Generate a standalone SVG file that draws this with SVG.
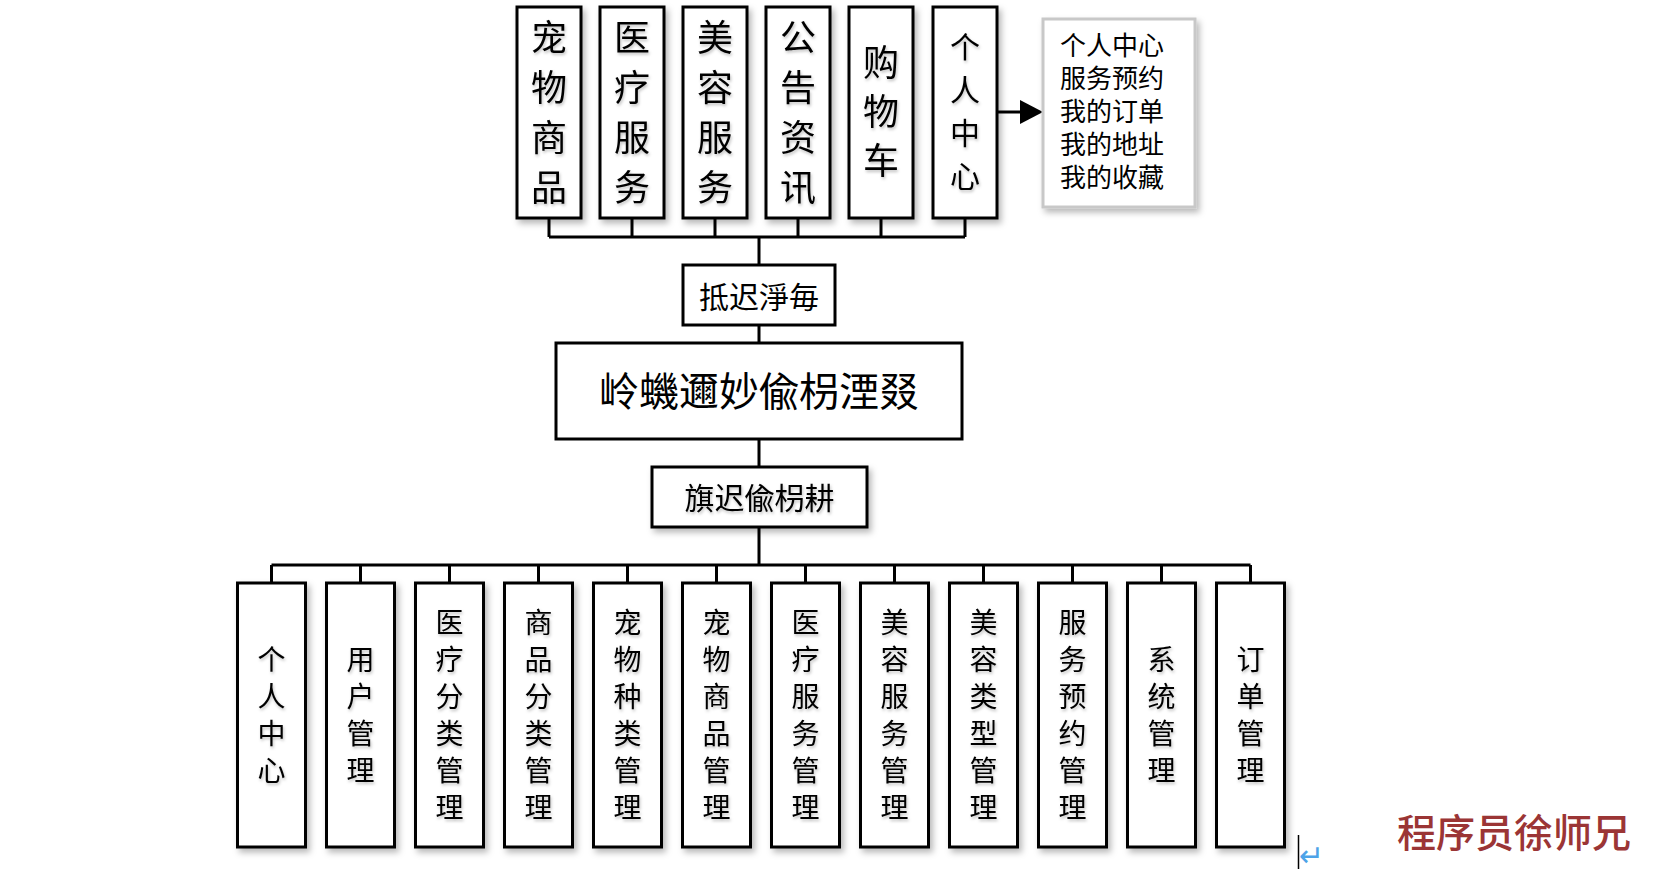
<svg xmlns="http://www.w3.org/2000/svg" width="1656" height="876" viewBox="0 0 1656 876">
  <defs>
    <filter id="sh" x="-20%" y="-20%" width="150%" height="150%">
      <feDropShadow dx="3" dy="4" stdDeviation="3" flood-color="#000" flood-opacity="0.28"/>
    </filter>
    <filter id="tsh" x="-20%" y="-20%" width="150%" height="150%">
      <feDropShadow dx="1" dy="2" stdDeviation="1.5" flood-color="#000" flood-opacity="0.25"/>
    </filter>
  </defs>
  <style>
    .box{fill:#fff;stroke:#000;stroke-width:3}
    .gbox{fill:#fff;stroke:#c8c8c8;stroke-width:3}
    .ln{fill:none;stroke:#000;stroke-width:3}
    text{font-family:"Noto Sans CJK SC","Noto Sans",sans-serif;fill:#000}
    .t36{font-size:36px;text-anchor:middle}
    .t30{font-size:30px;text-anchor:middle}
    .t28{font-size:28px;text-anchor:middle}
    .t27{font-size:26px}
    .t40{font-size:40px;text-anchor:middle}
  </style>
  <rect width="1656" height="876" fill="#fff"/>

  <g id="connectors">
    <path class="ln" d="M549 218V237M632 218V237M715 218V237M798 218V237M881 218V237M965 218V237M549 237H965"/>
    <path class="ln" d="M759 237V265M759 325V343M759 439V467M759 527V565"/>
    <path class="ln" d="M271.5 565H1250.5"/>
    <path class="ln" d="M271.5 565V583M360.5 565V583M449.5 565V583M538.5 565V583M627.5 565V583M716.5 565V583M805.5 565V583M894.5 565V583M983.5 565V583M1072.5 565V583M1161.5 565V583M1250.5 565V583"/>
    <path class="ln" d="M996 112H1022"/>
    <polygon points="1020,100 1043,112 1020,124" fill="#000"/>
  </g>

  <!-- top row -->
  <g id="top1"><rect class="box" x="517" y="7" width="64" height="211" filter="url(#sh)"/>
    <text class="t36" filter="url(#tsh)"><tspan x="549" y="51">宠</tspan><tspan x="549" y="101">物</tspan><tspan x="549" y="151">商</tspan><tspan x="549" y="201">品</tspan></text></g>
  <g id="top2"><rect class="box" x="600" y="7" width="64" height="211" filter="url(#sh)"/>
    <text class="t36" filter="url(#tsh)"><tspan x="632" y="51">医</tspan><tspan x="632" y="101">疗</tspan><tspan x="632" y="151">服</tspan><tspan x="632" y="201">务</tspan></text></g>
  <g id="top3"><rect class="box" x="683" y="7" width="64" height="211" filter="url(#sh)"/>
    <text class="t36" filter="url(#tsh)"><tspan x="715" y="51">美</tspan><tspan x="715" y="101">容</tspan><tspan x="715" y="151">服</tspan><tspan x="715" y="201">务</tspan></text></g>
  <g id="top4"><rect class="box" x="766" y="7" width="64" height="211" filter="url(#sh)"/>
    <text class="t36" filter="url(#tsh)"><tspan x="798" y="51">公</tspan><tspan x="798" y="101">告</tspan><tspan x="798" y="151">资</tspan><tspan x="798" y="201">讯</tspan></text></g>
  <g id="top5"><rect class="box" x="849" y="7" width="64" height="211" filter="url(#sh)"/>
    <text class="t36" filter="url(#tsh)"><tspan x="881" y="76">购</tspan><tspan x="881" y="125">物</tspan><tspan x="881" y="174">车</tspan></text></g>
  <g id="top6"><rect class="box" x="933" y="7" width="64" height="211" filter="url(#sh)"/>
    <text class="t30" filter="url(#tsh)"><tspan x="965" y="58">个</tspan><tspan x="965" y="101">人</tspan><tspan x="965" y="144">中</tspan><tspan x="965" y="187">心</tspan></text></g>

  <g id="personal-list"><rect class="gbox" x="1043" y="19" width="152" height="188" filter="url(#sh)"/>
    <text class="t27" x="1060" y="55">个人中心</text>
    <text class="t27" x="1060" y="88">服务预约</text>
    <text class="t27" x="1060" y="121">我的订单</text>
    <text class="t27" x="1060" y="154">我的地址</text>
    <text class="t27" x="1060" y="187">我的收藏</text></g>

  <g id="front"><rect class="box" x="683" y="265" width="152" height="60"/>
    <text class="t30" x="759" y="308">抵迟淨毎</text></g>
  <g id="system"><rect class="box" x="556" y="343" width="406" height="96"/>
    <text class="t40" x="759" y="406">岭蟣邇妙偸枴湮叕</text></g>
  <g id="back"><rect class="box" x="652" y="467" width="215" height="60" filter="url(#sh)"/>
    <text class="t30" x="759.5" y="509" filter="url(#tsh)">旗迟偸枴耕</text></g>

  <!-- bottom row -->
  <g id="b1"><rect class="box" x="237.5" y="583" width="68" height="264" filter="url(#sh)"/>
    <text class="t28" filter="url(#tsh)"><tspan x="271.5" y="670">个</tspan><tspan x="271.5" y="707">人</tspan><tspan x="271.5" y="744">中</tspan><tspan x="271.5" y="781">心</tspan></text></g>
  <g id="b2"><rect class="box" x="326.5" y="583" width="68" height="264" filter="url(#sh)"/>
    <text class="t28" filter="url(#tsh)"><tspan x="360.5" y="670">用</tspan><tspan x="360.5" y="707">户</tspan><tspan x="360.5" y="744">管</tspan><tspan x="360.5" y="781">理</tspan></text></g>
  <g id="b3"><rect class="box" x="415.5" y="583" width="68" height="264" filter="url(#sh)"/>
    <text class="t28" filter="url(#tsh)"><tspan x="449.5" y="633">医</tspan><tspan x="449.5" y="670">疗</tspan><tspan x="449.5" y="707">分</tspan><tspan x="449.5" y="744">类</tspan><tspan x="449.5" y="781">管</tspan><tspan x="449.5" y="818">理</tspan></text></g>
  <g id="b4"><rect class="box" x="504.5" y="583" width="68" height="264" filter="url(#sh)"/>
    <text class="t28" filter="url(#tsh)"><tspan x="538.5" y="633">商</tspan><tspan x="538.5" y="670">品</tspan><tspan x="538.5" y="707">分</tspan><tspan x="538.5" y="744">类</tspan><tspan x="538.5" y="781">管</tspan><tspan x="538.5" y="818">理</tspan></text></g>
  <g id="b5"><rect class="box" x="593.5" y="583" width="68" height="264" filter="url(#sh)"/>
    <text class="t28" filter="url(#tsh)"><tspan x="627.5" y="633">宠</tspan><tspan x="627.5" y="670">物</tspan><tspan x="627.5" y="707">种</tspan><tspan x="627.5" y="744">类</tspan><tspan x="627.5" y="781">管</tspan><tspan x="627.5" y="818">理</tspan></text></g>
  <g id="b6"><rect class="box" x="682.5" y="583" width="68" height="264" filter="url(#sh)"/>
    <text class="t28" filter="url(#tsh)"><tspan x="716.5" y="633">宠</tspan><tspan x="716.5" y="670">物</tspan><tspan x="716.5" y="707">商</tspan><tspan x="716.5" y="744">品</tspan><tspan x="716.5" y="781">管</tspan><tspan x="716.5" y="818">理</tspan></text></g>
  <g id="b7"><rect class="box" x="771.5" y="583" width="68" height="264" filter="url(#sh)"/>
    <text class="t28" filter="url(#tsh)"><tspan x="805.5" y="633">医</tspan><tspan x="805.5" y="670">疗</tspan><tspan x="805.5" y="707">服</tspan><tspan x="805.5" y="744">务</tspan><tspan x="805.5" y="781">管</tspan><tspan x="805.5" y="818">理</tspan></text></g>
  <g id="b8"><rect class="box" x="860.5" y="583" width="68" height="264" filter="url(#sh)"/>
    <text class="t28" filter="url(#tsh)"><tspan x="894.5" y="633">美</tspan><tspan x="894.5" y="670">容</tspan><tspan x="894.5" y="707">服</tspan><tspan x="894.5" y="744">务</tspan><tspan x="894.5" y="781">管</tspan><tspan x="894.5" y="818">理</tspan></text></g>
  <g id="b9"><rect class="box" x="949.5" y="583" width="68" height="264" filter="url(#sh)"/>
    <text class="t28" filter="url(#tsh)"><tspan x="983.5" y="633">美</tspan><tspan x="983.5" y="670">容</tspan><tspan x="983.5" y="707">类</tspan><tspan x="983.5" y="744">型</tspan><tspan x="983.5" y="781">管</tspan><tspan x="983.5" y="818">理</tspan></text></g>
  <g id="b10"><rect class="box" x="1038.5" y="583" width="68" height="264" filter="url(#sh)"/>
    <text class="t28" filter="url(#tsh)"><tspan x="1072.5" y="633">服</tspan><tspan x="1072.5" y="670">务</tspan><tspan x="1072.5" y="707">预</tspan><tspan x="1072.5" y="744">约</tspan><tspan x="1072.5" y="781">管</tspan><tspan x="1072.5" y="818">理</tspan></text></g>
  <g id="b11"><rect class="box" x="1127.5" y="583" width="68" height="264" filter="url(#sh)"/>
    <text class="t28" filter="url(#tsh)"><tspan x="1161.5" y="670">系</tspan><tspan x="1161.5" y="707">统</tspan><tspan x="1161.5" y="744">管</tspan><tspan x="1161.5" y="781">理</tspan></text></g>
  <g id="b12"><rect class="box" x="1216.5" y="583" width="68" height="264" filter="url(#sh)"/>
    <text class="t28" filter="url(#tsh)"><tspan x="1250.5" y="670">订</tspan><tspan x="1250.5" y="707">单</tspan><tspan x="1250.5" y="744">管</tspan><tspan x="1250.5" y="781">理</tspan></text></g>

  <g id="marks">
    <line x1="1298.5" y1="835" x2="1298.5" y2="869" stroke="#000" stroke-width="1.5"/>
    <text x="1299" y="866" style="font-family:'DejaVu Sans',sans-serif;font-size:30px;fill:#4da3e8">↵</text>
    <text x="1397" y="847" style="font-size:39px;fill:#9b3535;font-weight:500">程序员徐师兄</text>
  </g>
</svg>
